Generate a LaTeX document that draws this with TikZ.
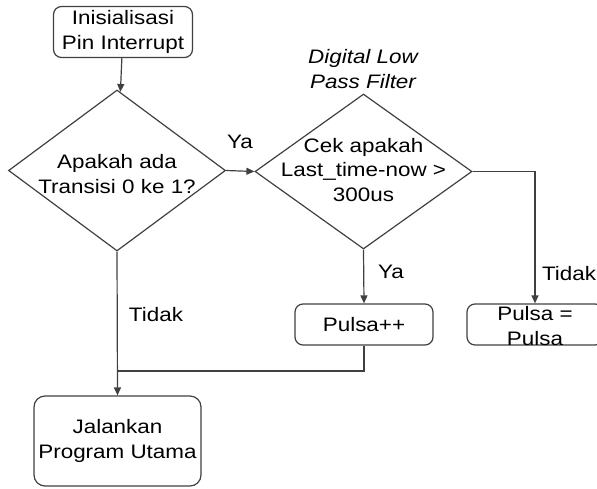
\documentclass[tikz,border=0pt]{standalone}
\usepackage{fontspec}
\setmainfont{Liberation Sans}[FakeStretch=1.15]
\usetikzlibrary{shapes.geometric,arrows.meta}

\definecolor{garis}{HTML}{404040}
\tikzset{
  kotak/.style={draw=garis, line width=1.2pt, rounded corners=8pt, align=center, inner sep=0pt},
  keputusan/.style={draw=garis, line width=1.2pt, diamond, inner sep=0pt},
  teks/.style={align=center, inner sep=0pt},
  hubung/.style={draw=garis, line width=1.2pt},
  panah/.style={hubung, -{Triangle[length=8pt,width=7pt]}}
}

\begin{document}
\begin{tikzpicture}[x=1pt,y=-1pt,font=\fontsize{19.5}{24.5}\selectfont]
  \clip (0,0) rectangle (597,488);
  % kotak dan keputusan
  \node[kotak, minimum width=139pt, minimum height=51pt] (init) at (123,32) {Inisialisasi\\Pin Interrupt};
  \node[keputusan, minimum width=217pt, minimum height=161pt] (transisi) at (117,170.5) {};
  \node[teks] (transisitxt) at (117,174) {Apakah ada\\Transisi 0 ke 1?};
  \node[keputusan, minimum width=217pt, minimum height=155pt] (cek) at (363.5,171.5) {};
  \node[teks] (cektxt) at (363.5,170) {Cek apakah\\Last\_time-now >\\300us};
  \node[teks, font=\fontsize{19.5}{24.5}\selectfont\itshape] (filter) at (363,69) {Digital Low\\Pass Filter};
  \node[kotak, minimum width=138pt, minimum height=41pt] (tambah) at (364,324.5) {Pulsa++};
  \node[kotak, minimum width=136pt, minimum height=41pt] (sama) at (535,324.5) {};
  \node[teks] (samatxt) at (535,326) {Pulsa =\\Pulsa};
  \node[kotak, rounded corners=11pt, minimum width=167pt, minimum height=90pt] (jalan) at (117.5,441) {Jalankan\\Program Utama};
  % label
  \node[teks] (ya1) at (240,142) {Ya};
  \node[teks] (ya2) at (391,272) {Ya};
  \node[teks] (tidak1) at (156,315) {Tidak};
  \node[teks] (tidak2) at (569,274) {Tidak};
  % penghubung
  \coordinate (gabung) at (117,371);
  \draw[panah] (init) -- (transisi);
  \draw[panah] (transisi.east) -- (cek.west);
  \draw[panah] (cek.south) -- (tambah.north);
  \draw[panah] (cek.east) -| (sama.north);
  \draw[hubung] (tambah.south) |- (gabung);
  \draw[panah] (transisi.south) -- (jalan.north);
\end{tikzpicture}
\end{document}
